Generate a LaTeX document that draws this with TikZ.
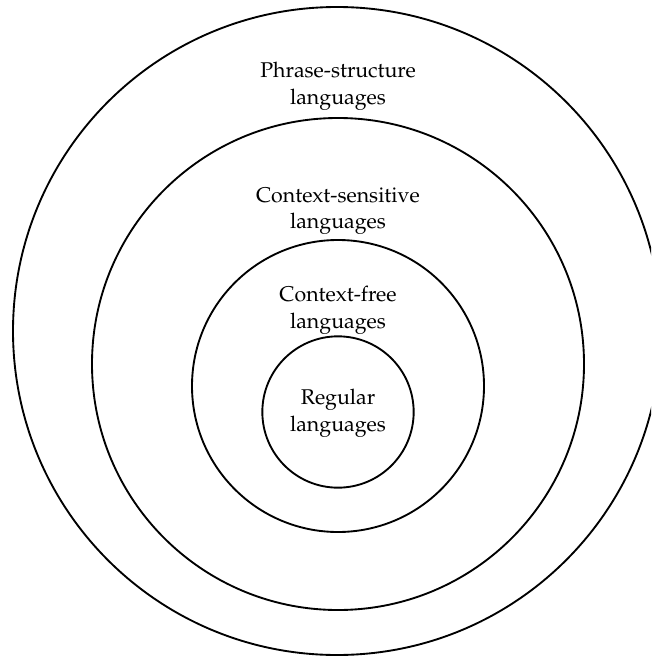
\documentclass[tikz,border=0pt]{standalone}
\IfFileExists{mathpazo.sty}{%
  \usepackage[T1]{fontenc}\usepackage{mathpazo}}{%
  \usepackage{fontspec}\setmainfont{Liberation Serif}}
\begin{document}
\begin{tikzpicture}[x=0.75pt,y=-0.75pt,
  ring/.style={draw, circle, line width=1.4pt, inner sep=0pt, minimum size=#1},
  lbl/.style={align=center, font=\fontsize{16}{20}\selectfont, inner sep=0pt}]
\useasboundingbox (0,0) rectangle (651,656);
\clip (0,0) rectangle (651,656);
% nested language classes, outermost first (sizes: diameter in px * 0.75pt)
\node[ring=486pt]   (ps)  at (337,331) {};
\node[ring=369pt]   (cs)  at (338,364) {};
\node[ring=219pt]   (cf)  at (338,386) {};
\node[ring=113.5pt] (reg) at (338,412) {};
% labels
\node[lbl] (psl)  at (338,86)  {Phrase-structure\\languages};
\node[lbl] (csl)  at (338,211) {Context-sensitive\\languages};
\node[lbl] (cfl)  at (338,310) {Context-free\\languages};
\node[lbl] (regl) at (338,413) {Regular\\languages};
\end{tikzpicture}
\end{document}
